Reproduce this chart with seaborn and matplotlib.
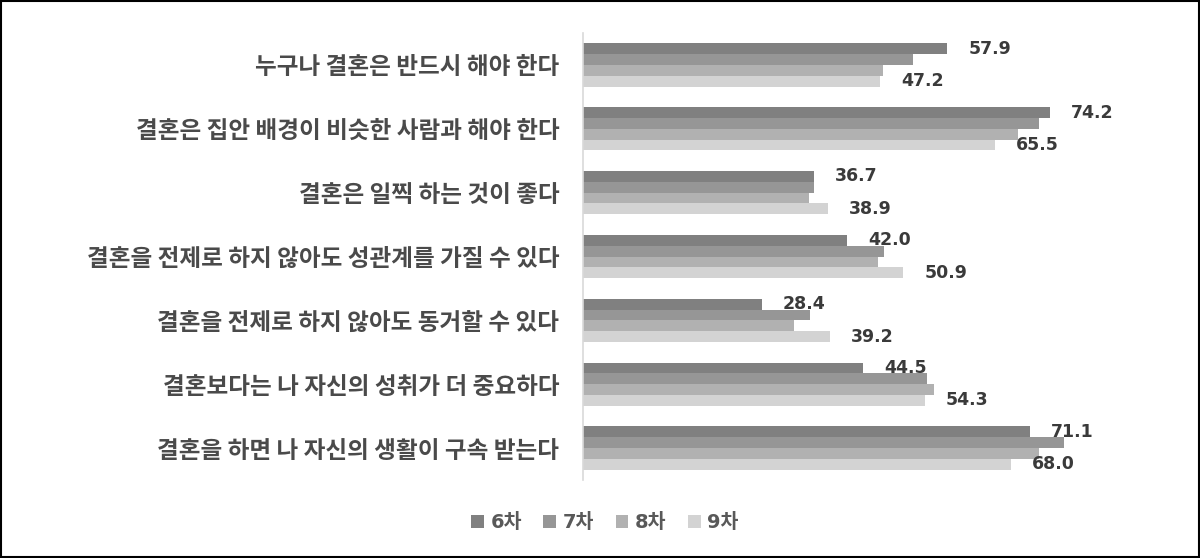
import matplotlib
matplotlib.use("Agg")
import matplotlib.pyplot as plt
import seaborn as sns
import pandas as pd
from matplotlib.patches import Rectangle

categories = [
    "누구나 결혼은 반드시 해야 한다",
    "결혼은 집안 배경이 비슷한 사람과 해야 한다",
    "결혼은 일찍 하는 것이 좋다",
    "결혼을 전제로 하지 않아도 성관계를 가질 수 있다",
    "결혼을 전제로 하지 않아도 동거할 수 있다",
    "결혼보다는 나 자신의 성취가 더 중요하다",
    "결혼을 하면 나 자신의 생활이 구속 받는다",
]
series_names = ["6차", "7차", "8차", "9차"]
wave6 = [57.9, 74.2, 36.7, 42.0, 28.4, 44.5, 71.1]
wave7 = [52.4, 72.5, 36.7, 47.8, 36.1, 54.6, 76.4]
wave8 = [47.6, 69.1, 35.9, 46.9, 33.5, 55.7, 72.5]
wave9 = [47.2, 65.5, 38.9, 50.9, 39.2, 54.3, 68.0]
colors = ["#808080", "#969696", "#b1b1b1", "#d3d3d3"]

values = [wave6, wave7, wave8, wave9]
rows = []
for name, vals in zip(series_names, values):
    for c, v in zip(categories, vals):
        rows.append({"category": c, "wave": name, "value": v})
df = pd.DataFrame(rows)

sns.set_theme(style="white")
plt.rcParams["font.family"] = ["Noto Sans CJK KR", "DejaVu Sans"]

fig = plt.figure(figsize=(12, 5.58), dpi=100)
ax = fig.add_axes([583 / 1200, 1 - 480 / 558, 85 * 6.293 / 1200, (480 - 33) / 558])

sns.barplot(data=df, y="category", x="value", hue="wave", order=categories,
            hue_order=series_names, palette=colors, orient="h", width=0.68,
            saturation=1, errorbar=None, legend=True, ax=ax, edgecolor="none")

ax.set_xlim(0, 85)
ax.set_ylim(6.5, -0.5)
ax.set_xlabel("")
ax.set_ylabel("")
ax.set_xticks([])
for s in ["top", "right", "bottom"]:
    ax.spines[s].set_visible(False)
ax.spines["left"].set_color("#d9d9d9")
ax.spines["left"].set_linewidth(1.2)
ax.tick_params(axis="y", length=0, pad=17, labelsize=17, labelcolor="#4a4a4a")
for t in ax.get_yticklabels():
    t.set_fontweight("bold")

for idx, vals in [(0, wave6), (3, wave9)]:
    ax.bar_label(ax.containers[idx], labels=[f"{v:.1f}" for v in vals], padding=15,
                 fontsize=12.5, fontweight="bold", color="#3a3a3a",
                 family=["DejaVu Sans", "Noto Sans CJK KR"])

handles, labels = ax.get_legend_handles_labels()
ax.get_legend().remove()
leg = fig.legend(handles, labels, loc="center", bbox_to_anchor=(605 / 1200, 1 - 523 / 558),
                 ncol=4, frameon=False, handlelength=0.65, handleheight=0.65,
                 handletextpad=0.35, columnspacing=1.1,
                 prop={"size": 14, "weight": "bold", "family": ["DejaVu Sans", "Noto Sans CJK KR"]})
for t in leg.get_texts():
    t.set_color("#595959")

fig.add_artist(Rectangle((0.001, 0.002), 0.998, 0.996, transform=fig.transFigure,
                         fill=False, edgecolor="black", linewidth=1.5))

fig.savefig("out.png", dpi=100, facecolor="white")
